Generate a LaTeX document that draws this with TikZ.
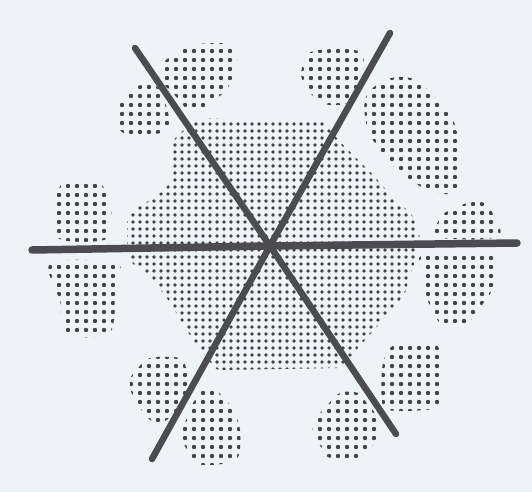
\documentclass[tikz,border=0pt]{standalone}
\definecolor{paper}{RGB}{239,243,248}
\definecolor{ink}{RGB}{76,74,82}
\definecolor{stipple}{RGB}{66,66,74}

\begin{document}
\begin{tikzpicture}
[
    x=1pt, y=-1pt,
    spoke/.style={draw=ink, line width=6.5pt, line cap=round},
    axis spoke/.style={spoke, line width=7.5pt},
    fine dot/.style={fill=stipple},
    coarse dot/.style={fill=stipple}
]
    \fill[paper] (0,0) rectangle (532,492);
    \useasboundingbox (0,0) rectangle (532,492);

    \begin{scope}
        \clip[rounded corners=4pt] (203,118) -- (326,122) -- (338,140) -- (375,177) -- (395,200)
            -- (412,214) -- (420,234) -- (417,256) -- (409,278) -- (405,294) -- (382,321)
            -- (358,348) -- (341,368) -- (216,370) -- (189,334) -- (169,301) -- (149,274)
            -- (132,264) -- (127,247) -- (127,214) -- (140,206) -- (157,196) -- (167,187)
            -- (173,178) -- (173,140) -- (186,128) -- cycle;
        \foreach \x in {126,133,...,424}
            \foreach \y in {117,124,...,372}
                \fill[fine dot] (\x,\y) circle (1.85pt);
    \end{scope}

    \begin{scope}
        \clip plot[smooth cycle, tension=0.6] coordinates {(190,45) (232,45) (236,68) (226,90) (208,104) (195,112) (186,108) (172,92) (160,80) (164,62) (178,53)}
              plot[smooth cycle, tension=0.6] coordinates {(137,86) (156,86) (164,100) (169,118) (166,130) (150,135) (128,135) (117,126) (117,110) (127,95)}
              plot[smooth cycle, tension=0.6] coordinates {(314,51) (358,51) (363,70) (357,90) (348,103) (322,103) (303,82) (303,64)}
              plot[smooth cycle, tension=0.6] coordinates {(388,79) (414,79) (432,94) (446,110) (456,128) (459,160) (457,191) (430,191) (400,172) (385,156) (368,130) (366,97)}
              plot[smooth cycle, tension=0.6] coordinates {(67,182) (96,182) (105,190) (111,205) (110,225) (104,240) (62,240) (54,225) (53,205) (58,190)}
              plot[smooth cycle, tension=0.6] coordinates {(53,262) (114,262) (119,275) (115,295) (114,320) (106,335) (72,336) (62,322) (60,300) (53,285)}
              plot[smooth cycle, tension=0.6] coordinates {(468,203) (485,203) (492,212) (497,237) (434,237) (438,222) (446,212)}
              plot[smooth cycle, tension=0.6] coordinates {(424,254) (491,254) (496,268) (492,290) (482,305) (473,318) (462,326) (443,326) (434,313) (427,298) (424,275)}
              plot[smooth cycle, tension=0.6] coordinates {(150,358) (180,358) (186,368) (190,385) (185,400) (175,413) (163,422) (153,422) (143,412) (133,397) (130,380) (138,368)}
              plot[smooth cycle, tension=0.6] coordinates {(207,386) (214,388) (222,396) (230,405) (236,416) (240,430) (240,448) (236,460) (222,464) (198,464) (188,452) (182,436) (186,420) (192,405) (199,394)}
              plot[smooth cycle, tension=0.6] coordinates {(398,343) (432,343) (440,352) (442,370) (441,390) (438,405) (425,410) (388,410) (382,400) (382,370) (386,355)}
              plot[smooth cycle, tension=0.6] coordinates {(340,393) (358,393) (366,402) (374,412) (378,425) (376,440) (368,450) (356,458) (330,458) (322,448) (313,435) (315,420) (325,408)};
        \foreach \x in {50,59,...,500}
            \foreach \y in {42,51,...,468}
                \fill[coarse dot] (\x,\y) circle (2.2pt);
    \end{scope}

    \coordinate (hub) at (270,246);
    \coordinate (west) at (32,250);
    \coordinate (east) at (517,243);
    \coordinate (northwest) at (135,48);
    \coordinate (southeast) at (396,434);
    \coordinate (northeast) at (390,33);
    \coordinate (southwest) at (152,459);

    \draw[axis spoke] (west) -- (hub) -- (east);
    \draw[spoke] (northwest) -- (hub) -- (southeast);
    \draw[spoke] (northeast) -- (hub) -- (southwest);
\end{tikzpicture}
\end{document}
